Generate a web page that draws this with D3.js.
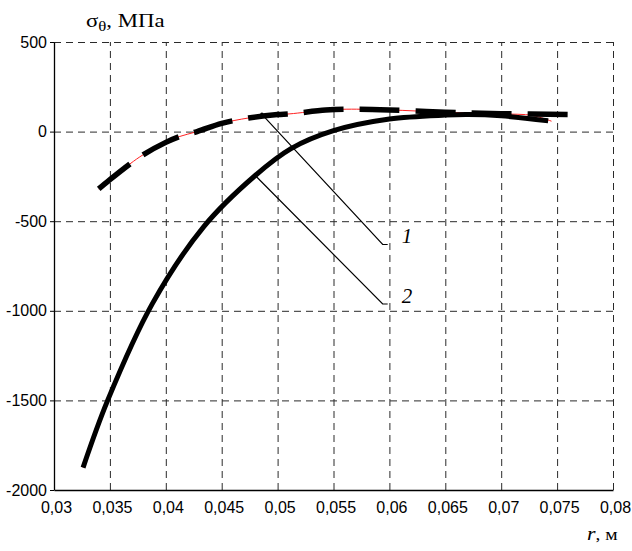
<!DOCTYPE html>
<html>
<head>
<meta charset="utf-8">
<script src="https://cdn.jsdelivr.net/npm/d3@7"></script>
<style>
  body { margin: 0; background: #fff; }
  .tick text { font-family: "Liberation Sans", Arial, sans-serif; font-size: 16px; fill: #000; }
  .grid line { stroke: #2a2a2a; stroke-width: 1; stroke-dasharray: 7,5; }
  .grid path { display: none; }
  .serif { font-family: "Liberation Serif", "Times New Roman", serif; fill: #000; }
</style>
</head>
<body>
<script>

// tick values
var xTicks = [0.03, 0.035, 0.04, 0.045, 0.05, 0.055, 0.06, 0.065, 0.07, 0.075, 0.08];
var yTicks = [-2000, -1500, -1000, -500, 0, 500];

// curve 1 (dashed), r in m and stress in MPa
var curve1R = [0.034, 0.035, 0.0368, 0.038, 0.040, 0.0412, 0.0428, 0.045, 0.0474, 0.050, 0.0511, 0.0543, 0.0562, 0.060, 0.065, 0.070, 0.076];
var curve1S = [-320, -268, -180, -128, -60, -28, 0, 46, 76, 95, 99, 120, 125, 121, 108, 100, 95];

// thin red line under curve 1
var red1R = [0.034, 0.035, 0.0368, 0.038, 0.040, 0.0412, 0.0428, 0.045, 0.0474, 0.050, 0.0511, 0.0543, 0.0562, 0.060, 0.065, 0.070, 0.0728, 0.0745];
var red1S = [-320, -268, -180, -128, -60, -28, 0, 46, 76, 95, 99, 120, 125, 121, 108, 99, 90, 58];

// curve 2 (solid)
var curve2R = [0.0326, 0.0348, 0.0388, 0.0434, 0.048, 0.0512, 0.055, 0.060, 0.065, 0.067, 0.070, 0.0742];
var curve2S = [-1875, -1500, -960, -530, -245, -95, 5, 70, 92, 95, 88, 60];

// leader lines for the curve numbers
var leaderText = ["1", "2"];
var leaderFromR = [0.0486, 0.0480];
var leaderFromS = [96, -245];
var leaderToR = [0.0594, 0.0594];
var leaderToS = [-630, -962];

window.onload = function() {
  main();
};


function main() {
  /*
  Builds the svg, the scales and calls the drawing parts.
  */
  var svg = d3.select("body")
              .append("svg")
              .attr("width", 632)
              .attr("height", 551);

  var plot = { left: 54, right: 613, top: 42, bottom: 490 };

  var x = d3.scaleLinear().domain([0.03, 0.08]).range([plot.left, plot.right]);
  var y = d3.scaleLinear().domain([-2000, 500]).range([plot.bottom, plot.top]);

  drawAxes(svg, x, y, plot);
  drawCurves(svg, x, y);
  drawLeaders(svg, x, y);
  drawTitles(svg);
}


function drawAxes(svg, x, y, plot) {
  /*
  Dashed grid, solid left and bottom axes and tick labels.
  */
  var loc = d3.formatLocale({ decimal: ",", thousands: "", grouping: [3], currency: ["", ""], minus: "-" });
  var fmt = loc.format("~g");

  // grid
  svg.append("g")
     .attr("class", "grid")
     .attr("transform", "translate(0," + plot.bottom + ")")
     .call(d3.axisBottom(x).tickValues(xTicks.slice(1)).tickSize(-(plot.bottom - plot.top)).tickFormat(""));
  svg.append("g")
     .attr("class", "grid")
     .attr("transform", "translate(" + plot.left + ",0)")
     .call(d3.axisLeft(y).tickValues(yTicks.slice(1)).tickSize(-(plot.right - plot.left)).tickFormat(""));

  // x axis
  var gx = svg.append("g")
              .attr("transform", "translate(0," + plot.bottom + ")")
              .call(d3.axisBottom(x).tickValues(xTicks).tickSize(0).tickPadding(12).tickSizeOuter(0).tickFormat(fmt));
  gx.select(".domain").attr("stroke", "#000").attr("stroke-width", 1.3);
  gx.selectAll("text").attr("dx", "2px");

  // y axis
  var gy = svg.append("g")
              .attr("transform", "translate(" + plot.left + ",0)")
              .call(d3.axisLeft(y).tickValues(yTicks).tickSize(4).tickPadding(3).tickSizeOuter(0).tickFormat(fmt));
  gy.select(".domain").attr("stroke", "#000").attr("stroke-width", 1.3);
  gy.selectAll("line").attr("stroke", "#000");
}


function drawCurves(svg, x, y) {
  /*
  Red thin lines first, the thick black curves on top.
  */
  var line = d3.line()
               .x(function(d) { return x(d[0]); })
               .y(function(d) { return y(d[1]); })
               .curve(d3.curveCatmullRom.alpha(0.5));

  var c1 = d3.zip(curve1R, curve1S);
  var r1 = d3.zip(red1R, red1S);
  var c2 = d3.zip(curve2R, curve2S);

  [r1, c2].forEach(function(d) {
    svg.append("path")
       .attr("d", line(d))
       .attr("fill", "none")
       .attr("stroke", "#f22")
       .attr("stroke-width", 1);
  });

  svg.append("path")
     .attr("d", line(c2))
     .attr("fill", "none")
     .attr("stroke", "#000")
     .attr("stroke-width", 5);

  svg.append("path")
     .attr("d", line(c1))
     .attr("fill", "none")
     .attr("stroke", "#000")
     .attr("stroke-width", 5.5)
     .attr("stroke-dasharray", "40,16");
}


function drawLeaders(svg, x, y) {
  /*
  Thin leader lines with the curve numbers.
  */
  leaderText.forEach(function(t, i) {
    var x0 = x(leaderFromR[i]), y0 = y(leaderFromS[i]);
    var x1 = x(leaderToR[i]), y1 = y(leaderToS[i]);
    svg.append("polyline")
       .attr("points", [[x0, y0], [x1, y1], [x1 + 5, y1]].join(" "))
       .attr("fill", "none")
       .attr("stroke", "#000")
       .attr("stroke-width", 1.2);
    svg.append("circle")
       .attr("cx", x0).attr("cy", y0).attr("r", 1.8).attr("fill", "#000");
    svg.append("text")
       .attr("class", "serif")
       .attr("x", x1 + 19)
       .attr("y", y1 - 1)
       .style("font-size", "21px")
       .style("font-style", "italic")
       .text(t);
  });
}


function drawTitles(svg) {
  /*
  Axis titles.
  */
  var yt = svg.append("text")
              .attr("class", "serif")
              .attr("transform", "translate(86,27) scale(1.2,1)")
              .style("font-size", "19px");
  yt.append("tspan").text("σ");
  yt.append("tspan").attr("dy", 4).style("font-size", "14px").text("θ");
  yt.append("tspan").attr("dy", -4).text(", МПа");

  var xt = svg.append("text")
              .attr("class", "serif")
              .attr("transform", "translate(587,540) scale(1.15,1)")
              .style("font-size", "19px");
  xt.append("tspan").style("font-style", "italic").text("r");
  xt.append("tspan").style("font-size", "17px").text(", м");
}

</script>
</body>
</html>
